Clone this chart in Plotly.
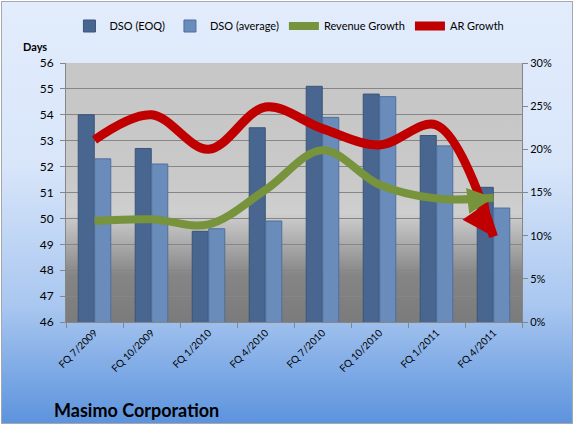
import base64
import math
import plotly.graph_objects as go

categories = ["FQ 7/2009", "FQ 10/2009", "FQ 1/2010", "FQ 4/2010",
              "FQ 7/2010", "FQ 10/2010", "FQ 1/2011", "FQ 4/2011"]
dso_eoq = [54.0, 52.7, 49.5, 53.5, 55.1, 54.8, 53.2, 51.2]
dso_avg = [52.3, 52.1, 49.6, 49.9, 53.9, 54.7, 52.8, 50.4]
revenue_growth = [0.117, 0.119, 0.113, 0.153, 0.199, 0.159, 0.143, 0.144]
ar_growth = [0.211, 0.240, 0.200, 0.249, 0.224, 0.205, 0.228, 0.099]

W, H = 575, 427
ML, MR, MT, MB = 66, 53, 63, 105
PW, PH = W - ML - MR, H - MT - MB
FONT = "Lato"
Y2_RANGE = [0, 0.30]
GREEN, RED = "#77933c", "#c00000"


def svg_uri(svg):
    return "data:image/svg+xml;base64," + base64.b64encode(svg.encode()).decode()


bg_svg = (
    f'<svg xmlns="http://www.w3.org/2000/svg" width="{W}" height="{H}">'
    '<defs><linearGradient id="g" x1="0" y1="0" x2="0" y2="1">'
    '<stop offset="0" stop-color="#e2ecfc"/>'
    '<stop offset="0.38" stop-color="#d9e6fa"/>'
    '<stop offset="0.72" stop-color="#a9c7f0"/>'
    '<stop offset="1" stop-color="#5c93dd"/>'
    '</linearGradient></defs>'
    f'<rect width="{W}" height="{H}" fill="#ffffff"/>'
    f'<rect x="1.5" y="1.5" width="{W-4}" height="{H-5}" fill="url(#g)" '
    'stroke="#a4a8b0" stroke-width="1"/></svg>'
)
plot_svg = (
    '<svg xmlns="http://www.w3.org/2000/svg" width="100" height="100" preserveAspectRatio="none">'
    '<defs><linearGradient id="p" x1="0" y1="0" x2="0" y2="1">'
    '<stop offset="0" stop-color="#c6c6c6"/>'
    '<stop offset="0.45" stop-color="#c9c9c9"/>'
    '<stop offset="0.58" stop-color="#cfcfcf"/>'
    '<stop offset="0.82" stop-color="#858585"/>'
    '<stop offset="1" stop-color="#7b7b7b"/>'
    '</linearGradient></defs>'
    '<rect width="100" height="100" fill="url(#p)"/></svg>'
)

n = len(categories)


def arrow_head(vals, color, width, tweak_deg=0.0, shaft=18, size=0.7):
    """Arrowhead at the last point, pointing along the last segment."""
    dx = PW / n
    dy = (vals[-2] - vals[-1]) * PH / (Y2_RANGE[1] - Y2_RANGE[0])
    a = math.atan2(dy, dx) + math.radians(tweak_deg)
    return dict(
        x=categories[-1], y=vals[-1], xref="x", yref="y2", text="",
        showarrow=True, arrowhead=2, arrowsize=size, arrowwidth=width,
        arrowcolor=color, ax=-shaft * math.cos(a), ay=-shaft * math.sin(a),
        axref="pixel", ayref="pixel",
    )


fig = go.Figure()
fig.add_trace(go.Bar(
    x=categories, y=dso_eoq, name="DSO (EOQ)",
    marker=dict(color="#48668f", line=dict(color="#3b5578", width=1)),
))
fig.add_trace(go.Bar(
    x=categories, y=dso_avg, name="DSO (average)",
    marker=dict(color="#6a8cbb", line=dict(color="#4f6f9c", width=1)),
))
fig.add_trace(go.Scatter(
    x=categories, y=revenue_growth, name="Revenue Growth", yaxis="y2",
    mode="lines",
    line=dict(color=GREEN, width=8, shape="spline", smoothing=1.0,
              backoff=[0] * (n - 1) + [10]),
))
fig.add_trace(go.Scatter(
    x=categories, y=ar_growth, name="AR Growth", yaxis="y2",
    mode="lines",
    line=dict(color=RED, width=9, shape="spline", smoothing=1.0,
              backoff=[0] * (n - 1) + [10]),
))

fig.update_layout(
    width=W, height=H,
    margin=dict(l=ML, r=MR, t=MT, b=MB, pad=0),
    paper_bgcolor="rgba(0,0,0,0)", plot_bgcolor="rgba(0,0,0,0)",
    font=dict(family=FONT, size=11, color="#000000"),
    barmode="group", bargap=0.42, bargroupgap=0.03,
    showlegend=True,
    legend=dict(orientation="h", x=0.49, xanchor="center",
                y=1 + (MT - 26) / PH, yanchor="middle",
                font=dict(size=11), bgcolor="rgba(0,0,0,0)",
                itemwidth=30, traceorder="normal"),
    xaxis=dict(type="category", tickangle=-45, tickson="boundaries",
               ticks="outside", ticklen=5, tickcolor="#868686",
               showline=True, linecolor="#868686", linewidth=1,
               showgrid=False, tickfont=dict(size=10), fixedrange=True),
    yaxis=dict(range=[46, 56], dtick=1, showgrid=True, gridcolor="#868686",
               gridwidth=1, ticks="outside", ticklen=5, tickcolor="#868686",
               showline=True, linecolor="#868686", linewidth=1,
               zeroline=False, tickfont=dict(size=12), ticklabelstandoff=4),
    yaxis2=dict(range=Y2_RANGE, dtick=0.05, tickformat=".0%",
                overlaying="y", side="right", showgrid=False,
                ticks="outside", ticklen=5, tickcolor="#868686",
                showline=True, linecolor="#868686", linewidth=1,
                zeroline=False, tickfont=dict(size=11)),
    images=[
        dict(source=svg_uri(bg_svg), xref="paper", yref="paper",
             x=-ML / PW, y=1 + MT / PH, sizex=W / PW, sizey=H / PH,
             xanchor="left", yanchor="top", sizing="stretch", layer="below"),
        dict(source=svg_uri(plot_svg), xref="paper", yref="paper",
             x=0, y=1, sizex=1, sizey=1,
             xanchor="left", yanchor="top", sizing="stretch", layer="below"),
    ],
    annotations=[
        dict(text="<b>Days</b>", xref="paper", yref="paper",
             x=(35 - ML) / PW, y=1 + (MT - 47) / PH, showarrow=False,
             xanchor="center", yanchor="middle", font=dict(size=11)),
        dict(text="<b>Masimo Corporation</b>", xref="paper", yref="paper",
             x=(52 - ML) / PW, y=-(410 - MT - PH) / PH, showarrow=False,
             xanchor="left", yanchor="middle", font=dict(size=18)),
        arrow_head(revenue_growth, GREEN, 8, tweak_deg=-6, size=0.65),
        arrow_head(ar_growth, RED, 9, tweak_deg=-8, size=0.7),
    ],
)

fig.write_html("out.html")
